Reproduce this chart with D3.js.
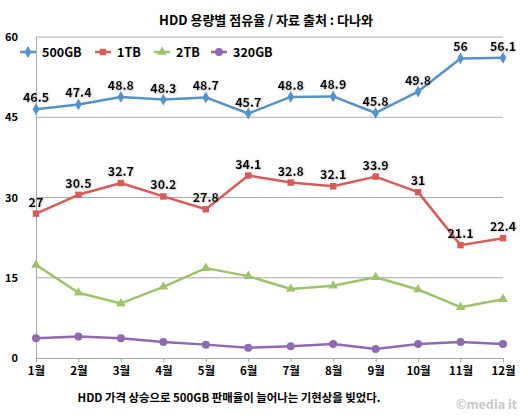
<!DOCTYPE html>
<html>
<head>
<meta charset="utf-8">
<script src="https://cdn.jsdelivr.net/npm/d3@7"></script>
<style>
  body { margin: 0; background: #fff; }
  text { font-family: "Noto Sans CJK KR", "Noto Sans", sans-serif; font-weight: 700; }
</style>
</head>
<body>
<div id="chart-area"><svg></svg></div>
<script>
const months = ["1월", "2월", "3월", "4월", "5월", "6월", "7월", "8월", "9월", "10월", "11월", "12월"];
const yTicks = [0, 15, 30, 45, 60];
const gb500 = [46.5, 47.4, 48.8, 48.3, 48.7, 45.7, 48.8, 48.9, 45.8, 49.8, 56, 56.1];
const tb1 = [27, 30.5, 32.7, 30.2, 27.8, 34.1, 32.8, 32.1, 33.9, 31, 21.1, 22.4];
const tb2 = [17.4, 12.2, 10.2, 13.3, 16.8, 15.3, 12.9, 13.5, 15.1, 12.8, 9.5, 11.0];
const gb320 = [3.7, 4.0, 3.7, 3.0, 2.5, 1.9, 2.2, 2.6, 1.7, 2.6, 3.0, 2.6];
const seriesNames = ["500GB", "1TB", "2TB", "320GB"];
const title = "HDD 용량별 점유율 / 자료 출처 : 다나와";
const caption = "HDD 가격 상승으로 500GB 판매율이 늘어나는 기현상을 빚었다.";

const chartSize = { width: 528, height: 419 };
const plot = { left: 36, right: 503, top: 37, bottom: 358 };

const series = [
  { name: seriesNames[0], values: gb500, color: "#5592cc", symbol: d3.symbolDiamond, size: 40, labels: true },
  { name: seriesNames[1], values: tb1, color: "#d65c58", symbol: d3.symbolSquare, size: 42, labels: true },
  { name: seriesNames[2], values: tb2, color: "#9fc36c", symbol: d3.symbolTriangle, size: 40, labels: false },
  { name: seriesNames[3], values: gb320, color: "#8e6bb0", symbol: d3.symbolCircle, size: 50, labels: false }
];

const svg = d3
  .select("#chart-area svg")
  .attr("width", chartSize.width)
  .attr("height", chartSize.height);

const defs = svg.append("defs");
defs.append("filter")
  .attr("id", "glow")
  .attr("x", "-20%").attr("y", "-30%").attr("width", "140%").attr("height", "160%")
  .append("feDropShadow")
  .attr("dx", 0.5).attr("dy", 0.5)
  .attr("stdDeviation", 1)
  .attr("flood-color", "#888")
  .attr("flood-opacity", 0.7);

const x = d3.scalePoint().domain(months).range([plot.left, plot.right]);
const y = d3.scaleLinear().domain([0, 60]).range([plot.bottom, plot.top]);

// gridlines
svg.append("g")
  .selectAll("line")
  .data(yTicks.filter(t => t > 0))
  .join("line")
  .attr("x1", plot.left).attr("x2", plot.right)
  .attr("y1", d => y(d)).attr("y2", d => y(d))
  .attr("stroke", "#a8a8a8").attr("stroke-width", 1);

// y axis
const yAxis = svg.append("g")
  .attr("transform", `translate(${plot.left},0)`)
  .call(d3.axisLeft(y).tickValues(yTicks).tickSize(0).tickPadding(18));
yAxis.select(".domain").attr("stroke", "#a8a8a8");
yAxis.selectAll("text").attr("font-size", 11).attr("fill", "#000");

// x axis
const xAxis = svg.append("g")
  .attr("transform", `translate(0,${plot.bottom})`)
  .call(d3.axisBottom(x).tickSize(4).tickSizeOuter(0).tickPadding(5));
xAxis.select(".domain").attr("stroke", "#a8a8a8");
xAxis.selectAll(".tick line").attr("stroke", "#a8a8a8");
xAxis.selectAll("text").attr("font-size", 11.5).attr("fill", "#000");

// lines + markers
const line = d3.line()
  .x((v, i) => x(months[i]))
  .y(v => y(v));

series.forEach(s => {
  const g = svg.append("g");
  g.append("path")
    .attr("d", line(s.values))
    .attr("fill", "none")
    .attr("stroke", s.color)
    .attr("stroke-width", 2.5)
    .attr("stroke-linejoin", "round");
  g.selectAll("path.m")
    .data(s.values)
    .join("path")
    .attr("class", "m")
    .attr("transform", (v, i) => `translate(${x(months[i])},${y(v)})`)
    .attr("d", d3.symbol().type(s.symbol).size(s.size))
    .attr("fill", s.color);
  if (s.labels) {
    g.selectAll("text")
      .data(s.values)
      .join("text")
      .attr("x", (v, i) => x(months[i]))
      .attr("y", v => y(v) - 7)
      .attr("text-anchor", "middle")
      .attr("font-size", 12.5)
      .attr("fill", "#000")
      .attr("filter", "url(#glow)")
      .text(v => v);
  }
});

// legend
const legendX = [28, 103, 162, 219];
const legend = svg.append("g")
  .selectAll("g")
  .data(series)
  .join("g")
  .attr("transform", (s, i) => `translate(${legendX[i]},52)`);
legend.append("line")
  .attr("x1", -8).attr("x2", 8)
  .attr("stroke", s => s.color).attr("stroke-width", 2.5);
legend.append("path")
  .attr("d", s => d3.symbol().type(s.symbol).size(s.size)())
  .attr("fill", s => s.color);
legend.append("text")
  .attr("x", 14).attr("dy", "0.36em")
  .attr("font-size", 12.5)
  .text(s => s.name);

// title, caption, watermark
svg.append("text")
  .attr("x", 266).attr("y", 25)
  .attr("text-anchor", "middle")
  .attr("font-size", 13)
  .text(title);

svg.append("text")
  .attr("x", 229).attr("y", 402)
  .attr("text-anchor", "middle")
  .attr("font-size", 11.4)
  .text(caption);

svg.append("text")
  .attr("x", 517).attr("y", 409)
  .attr("text-anchor", "end")
  .attr("font-size", 12.5)
  .attr("fill", "#c8c8c8")
  .text("©media it");
</script>
</body>
</html>
